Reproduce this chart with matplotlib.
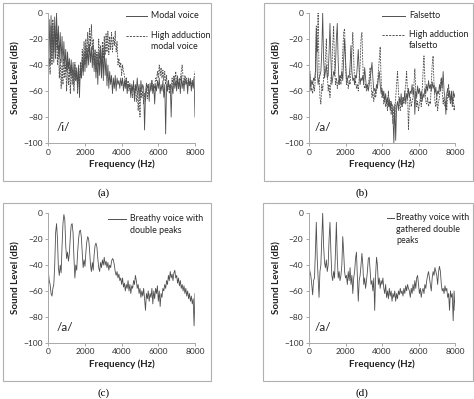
import numpy as np
import matplotlib
matplotlib.use("Agg")
import matplotlib.pyplot as plt
from matplotlib.lines import Line2D
from matplotlib.patches import Rectangle

plt.rcParams['font.family'] = ['Lato', 'DejaVu Sans']

# Frequency grid (Hz), 50 Hz spacing
freq = np.arange(0, 8001, 50)

# (a) /i/ : Modal voice (solid) and High adduction modal voice (dashed)
modal_voice = [
    -30, -5, -40, -2, -35, -8, -38, -3, -30, 0,
    -28, -10, -35, -15, -38, -18, -40, -22, -42, -28,
    -45, -30, -43, -35, -48, -36, -50, -38, -55, -40,
    -52, -42, -58, -40, -65, -42, -50, -35, -48, -30,
    -45, -25, -42, -27, -40, -24, -38, -26, -42, -25,
    -45, -30, -50, -32, -55, -30, -48, -28, -50, -28,
    -52, -25, -48, -35, -56, -40, -58, -45, -55, -48,
    -62, -50, -58, -48, -60, -50, -55, -52, -58, -50,
    -56, -50, -60, -52, -58, -50, -62, -55, -57, -54,
    -65, -55, -60, -52, -68, -55, -60, -50, -62, -55,
    -66, -52, -60, -55, -58, -90, -62, -54, -58, -55,
    -68, -54, -60, -52, -62, -55, -70, -55, -60, -52,
    -58, -50, -62, -55, -60, -52, -65, -55, -93, -55,
    -60, -52, -58, -55, -80, -55, -62, -50, -58, -52,
    -60, -50, -58, -52, -62, -48, -58, -52, -60, -50,
    -55, -52, -62, -50, -56, -52, -60, -52, -58, -50,
    -80]
high_adduction_modal = [
    -45, -35, -47, -10, -40, -5, -30, -10, -35, -15,
    -40, -25, -50, -35, -58, -40, -55, -35, -50, -40,
    -60, -38, -55, -42, -62, -40, -55, -45, -60, -38,
    -52, -45, -62, -42, -55, -38, -50, -28, -45, -22,
    -40, -20, -35, -15, -30, -12, -25, -9, -28, -20,
    -40, -28, -45, -30, -40, -20, -35, -25, -40, -22,
    -35, -18, -32, -16, -30, -14, -32, -18, -28, -15,
    -30, -18, -25, -14, -30, -22, -40, -35, -42, -38,
    -48, -40, -45, -48, -55, -50, -58, -52, -60, -55,
    -62, -58, -65, -55, -62, -58, -68, -60, -75, -62,
    -80, -58, -65, -60, -70, -62, -68, -58, -66, -55,
    -62, -60, -58, -52, -60, -55, -58, -50, -52, -45,
    -50, -40, -48, -42, -50, -44, -52, -45, -55, -48,
    -60, -52, -62, -55, -58, -50, -55, -48, -52, -45,
    -55, -48, -58, -50, -52, -45, -40, -50, -55, -48,
    -52, -50, -58, -52, -55, -50, -57, -52, -55, -50,
    -45]

# (b) /a/ : Falsetto (solid) and High adduction falsetto (dashed)
falsetto = [
    -55, -48, -58, -52, -55, -50, -52, -45, -12, -45,
    -55, -50, -48, -45, -30, 0, -35, -50, -45, -40,
    -50, -48, -30, -8, -35, -55, -50, -45, -48, -40,
    -20, -8, -38, -55, -48, -50, -45, -52, -35, -20,
    -35, -50, -52, -48, -50, -40, -25, -45, -52, -50,
    -55, -48, -50, -40, -28, -45, -55, -50, -52, -48,
    -55, -42, -50, -58, -55, -60, -55, -50, -45, -38,
    -50, -60, -58, -62, -55, -58, -50, -45, -55, -62,
    -58, -65, -60, -68, -62, -70, -65, -72, -66, -75,
    -68, -72, -80, -100, -70, -98, -72, -68, -75, -65,
    -70, -62, -72, -65, -68, -60, -70, -62, -66, -58,
    -65, -60, -62, -55, -63, -58, -78, -60, -65, -56,
    -62, -58, -65, -60, -68, -62, -65, -58, -62, -55,
    -60, -52, -58, -55, -60, -53, -58, -55, -62, -57,
    -65, -60, -62, -55, -60, -50, -58, -45, -60, -65,
    -78, -62, -58, -65, -60, -68, -62, -70, -60, -65,
    -62]
high_adduction_falsetto = [
    -65, -45, -60, -58, -62, -55, -60, -50, -10, -30,
    0, -45, -65, -70, -55, -60, -50, -45, -35, -20,
    -45, -60, -55, -65, -50, -45, -25, -10, -40, -55,
    -50, -58, -52, -55, -48, -55, -45, -30, -15, -12,
    -40, -55, -50, -58, -52, -55, -45, -30, -15, -35,
    -55, -52, -58, -55, -60, -50, -40, -20, -15, -40,
    -55, -58, -55, -60, -58, -55, -50, -42, -55, -65,
    -60, -68, -62, -65, -60, -55, -45, -35, -26, -50,
    -65, -60, -70, -65, -72, -68, -75, -60, -72, -68,
    -78, -70, -85, -72, -80, -65, -55, -45, -60, -70,
    -75, -68, -72, -65, -70, -62, -55, -45, -62, -90,
    -70, -65, -72, -68, -65, -55, -43, -60, -72, -68,
    -75, -70, -65, -72, -60, -45, -33, -50, -68, -70,
    -65, -72, -68, -70, -55, -40, -33, -55, -68, -72,
    -65, -75, -68, -65, -55, -50, -60, -70, -65, -72,
    -68, -75, -62, -55, -65, -70, -60, -72, -65, -75,
    -70]

# (c) /a/ : Breathy voice with double peaks
breathy_double = [
    -45, -52, -55, -62, -64, -58, -55, -40, -15, -8,
    -20, -42, -48, -40, -46, -25, -8, -1, -5, -25,
    -35, -30, -37, -31, -18, -9, -8, -15, -35, -50,
    -40, -44, -30, -20, -14, -13, -18, -30, -42, -36,
    -41, -30, -22, -18, -20, -28, -40, -45, -38, -44,
    -32, -25, -23, -26, -35, -42, -45, -38, -42, -36,
    -40, -34, -40, -37, -42, -38, -44, -40, -42, -37,
    -35, -36, -40, -45, -48, -45, -50, -47, -52, -50,
    -55, -50, -57, -54, -60, -55, -58, -52, -60, -55,
    -62, -56, -58, -52, -55, -48, -52, -58, -55, -62,
    -58, -65, -60, -64, -58, -66, -75, -62, -66, -60,
    -68, -62, -65, -58, -70, -60, -66, -58, -62, -56,
    -68, -60, -72, -62, -65, -58, -60, -55, -58, -52,
    -55, -48, -52, -45, -50, -47, -52, -46, -44, -50,
    -48, -54, -50, -56, -52, -58, -55, -60, -56, -62,
    -58, -64, -60, -66, -62, -68, -64, -70, -66, -87,
    -62]

# (d) /a/ : Breathy voice with gathered double peaks
breathy_gathered = [
    -40, -45, -48, -55, -63, -52, -50, -30, -7, -35,
    -50, -65, -45, -40, -20, 0, -25, -38, -42, -36,
    -45, -40, -20, -7, -30, -48, -52, -45, -50, -30,
    -7, -35, -50, -45, -52, -48, -40, -18, -30, -45,
    -50, -48, -55, -45, -52, -42, -55, -48, -62, -50,
    -45, -35, -30, -50, -68, -52, -48, -40, -31, -40,
    -55, -50, -58, -52, -45, -35, -34, -45, -55, -52,
    -60, -50, -75, -48, -34, -40, -55, -50, -58, -52,
    -55, -50, -58, -62, -55, -65, -60, -66, -58, -64,
    -60, -68, -62, -65, -60, -68, -62, -66, -60, -63,
    -58, -62, -60, -64, -58, -62, -56, -60, -55, -58,
    -60, -65, -58, -62, -55, -60, -52, -58, -50, -48,
    -55, -62, -58, -65, -60, -58, -62, -55, -58, -52,
    -48, -45, -50, -55, -60, -50, -45, -48, -42, -45,
    -48, -55, -45, -41, -45, -55, -60, -58, -62, -56,
    -60, -58, -65, -62, -75, -60, -65, -62, -83, -60,
    -75]

x_ticks = [0, 2000, 4000, 6000, 8000]
y_ticks = [0, -20, -40, -60, -80, -100]

W, H = 474, 399
fig = plt.figure(figsize=(W / 100, H / 100), dpi=100)

LINE_C = '#505050'
DASH = (0, (2.2, 1.2))

def fx(px):
    return px / W

def fy(py):
    return 1 - py / H

def make_ax(left, right, top, bottom):
    ax = fig.add_axes([fx(left), fy(bottom), fx(right - left), (bottom - top) / H])
    ax.set_xlim(0, 8000)
    ax.set_ylim(-100, 0)
    ax.set_xticks(x_ticks)
    ax.set_yticks(y_ticks)
    ax.tick_params(labelsize=6, length=2, width=0.6, color='#9a9a9a',
                   labelcolor='#303030', pad=2)
    for s in ['top', 'right']:
        ax.spines[s].set_visible(False)
    for s in ['left', 'bottom']:
        ax.spines[s].set_color('#a8a8a8')
        ax.spines[s].set_linewidth(0.7)
    ax.set_xlabel('Frequency (Hz)', fontsize=7, fontweight='bold', labelpad=3, color='#202020')
    ax.set_ylabel('Sound Level (dB)', fontsize=7, fontweight='bold', labelpad=2, color='#202020')
    return ax

def box(x0, y0, x1, y1):
    fig.add_artist(Rectangle((fx(x0), fy(y1)), fx(x1 - x0), (y1 - y0) / H,
                             transform=fig.transFigure, fill=False,
                             edgecolor='#b0b0b0', linewidth=0.8))

def legend_line(x0, x1, y, dashed=False):
    fig.add_artist(Line2D([fx(x0), fx(x1)], [fy(y), fy(y)], transform=fig.transFigure,
                          color=LINE_C, linewidth=0.7,
                          linestyle=DASH if dashed else '-'))

def legend_text(x, y, s):
    fig.text(fx(x), fy(y), s, fontsize=6.4, va='center', ha='left',
             color='#202020', linespacing=1.35)

# Panel boxes
box(3, 3, 211, 181)
box(264, 3, 473, 181)
box(3, 203, 211, 381)
box(263, 203, 473, 381)

# (a)
ax = make_ax(48.3, 195, 13, 143)
ax.plot(freq, high_adduction_modal, color=LINE_C, lw=0.6, linestyle=DASH)
ax.plot(freq, modal_voice, color=LINE_C, lw=0.6)
ax.text(450, -88, '/i/', fontsize=8.5, color='#202020', va='center')
legend_line(126, 147, 15.5)
legend_text(151, 15.5, 'Modal voice')
legend_line(126, 147, 35.5, dashed=True)
legend_text(151, 41, 'High adduction\nmodal voice')
fig.text(fx(104), fy(193), '(a)', fontsize=8, family='Liberation Serif',
         ha='center', va='center')

# (b)
ax = make_ax(309, 455, 13, 143)
ax.plot(freq, high_adduction_falsetto, color=LINE_C, lw=0.6, linestyle=DASH)
ax.plot(freq, falsetto, color=LINE_C, lw=0.6)
ax.text(330, -88, '/a/', fontsize=8.5, color='#202020', va='center')
legend_line(382, 405, 16)
legend_text(409, 16, 'Falsetto')
legend_line(382, 405, 34.5, dashed=True)
legend_text(409, 40, 'High adduction\nfalsetto')
fig.text(fx(362), fy(193), '(b)', fontsize=8, family='Liberation Serif',
         ha='center', va='center')

# (c)
ax = make_ax(48.3, 195, 213.3, 342.7)
ax.plot(freq, breathy_double, color=LINE_C, lw=0.6)
ax.text(450, -88, '/a/', fontsize=8.5, color='#202020', va='center')
legend_line(108, 126, 219)
legend_text(130, 224.5, 'Breathy voice with\ndouble peaks')
fig.text(fx(104), fy(393), '(c)', fontsize=8, family='Liberation Serif',
         ha='center', va='center')

# (d)
ax = make_ax(309, 455, 213.3, 342.7)
ax.plot(freq, breathy_gathered, color=LINE_C, lw=0.6)
ax.text(330, -88, '/a/', fontsize=8.5, color='#202020', va='center')
legend_line(387, 394, 218)
legend_text(396, 229, 'Breathy voice with\ngathered double\npeaks')
fig.text(fx(362), fy(393), '(d)', fontsize=8, family='Liberation Serif',
         ha='center', va='center')

fig.savefig('out.png', dpi=100)
